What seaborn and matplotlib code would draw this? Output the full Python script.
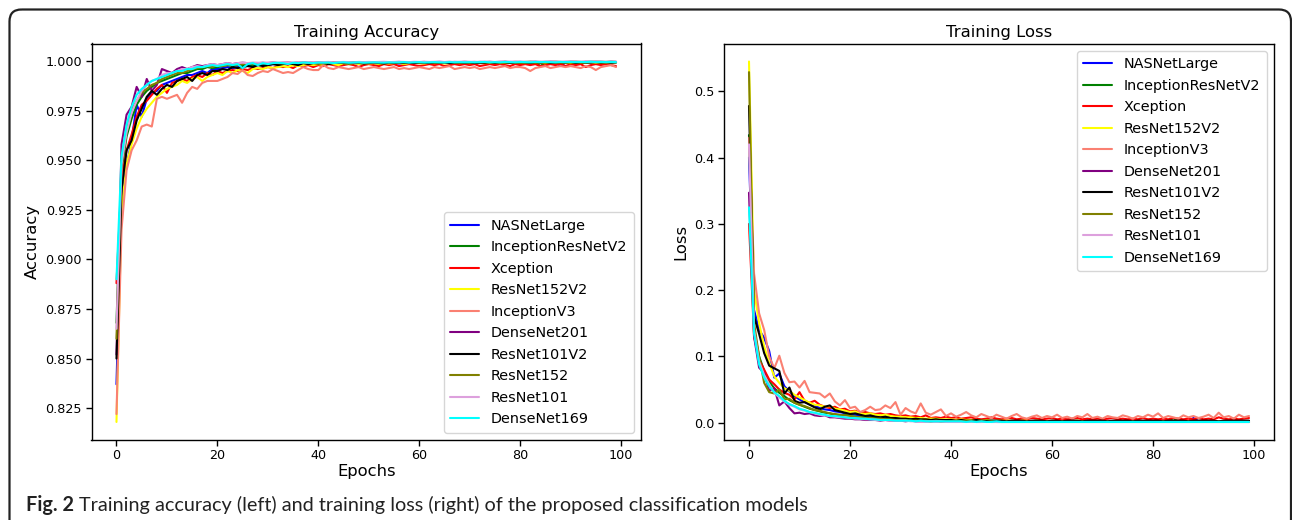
import numpy as np
import matplotlib
matplotlib.use("Agg")
import matplotlib.pyplot as plt
from matplotlib import font_manager
from matplotlib.patches import FancyBboxPatch
import seaborn as sns

# ---------------- data ----------------
models = ["NASNetLarge", "InceptionResNetV2", "Xception", "ResNet152V2", "InceptionV3",
          "DenseNet201", "ResNet101V2", "ResNet152", "ResNet101", "DenseNet169"]
colors = ["blue", "green", "red", "yellow", "salmon",
          "purple", "black", "olive", "plum", "cyan"]
epochs = list(range(100))
x_ticks = [0, 20, 40, 60, 80, 100]

acc_nasnet = [
    0.837, 0.930, 0.947, 0.960, 0.978, 0.972, 0.981, 0.984, 0.985, 0.988,
    0.989, 0.990, 0.991, 0.992, 0.993, 0.993, 0.994, 0.995, 0.994, 0.996,
    0.996, 0.9965, 0.997, 0.9965, 0.997, 0.9975, 0.998, 0.9975, 0.998, 0.9985,
    0.998, 0.9985, 0.9985, 0.999, 0.9985, 0.999, 0.9985, 0.999, 0.999, 0.9985,
    0.999, 0.9985, 0.999, 0.9992, 0.9985, 0.999, 0.9992, 0.999, 0.9985, 0.999,
    0.9992, 0.999, 0.9985, 0.999, 0.9992, 0.999, 0.9988, 0.999, 0.9993, 0.999,
    0.9992, 0.999, 0.9993, 0.9985, 0.999, 0.9993, 0.999, 0.9992, 0.9988, 0.999,
    0.9993, 0.999, 0.9992, 0.9993, 0.999, 0.9992, 0.9993, 0.999, 0.9993, 0.9992,
    0.9993, 0.999, 0.9993, 0.9992, 0.9993, 0.999, 0.9992, 0.9993, 0.9975, 0.9993,
    0.9993, 0.999, 0.9993, 0.9994, 0.9992, 0.9993, 0.9994, 0.9993, 0.9992, 0.9993]
acc_incresv2 = [
    0.868, 0.945, 0.962, 0.971, 0.978, 0.982, 0.985, 0.987, 0.989, 0.990,
    0.991, 0.992, 0.993, 0.994, 0.994, 0.995, 0.996, 0.996, 0.997, 0.9965,
    0.997, 0.9975, 0.998, 0.9975, 0.998, 0.998, 0.9985, 0.998, 0.9985, 0.999,
    0.9985, 0.999, 0.9985, 0.999, 0.999, 0.9988, 0.999, 0.9992, 0.999, 0.9988,
    0.999, 0.9992, 0.999, 0.9993, 0.999, 0.9992, 0.9988, 0.9993, 0.999, 0.9992,
    0.9993, 0.999, 0.9992, 0.9993, 0.999, 0.9993, 0.9992, 0.999, 0.9993, 0.9992,
    0.999, 0.9993, 0.9992, 0.9993, 0.999, 0.9992, 0.9993, 0.9993, 0.999, 0.9992,
    0.9993, 0.9992, 0.999, 0.9993, 0.9993, 0.9992, 0.999, 0.9993, 0.9992, 0.9993,
    0.9993, 0.9992, 0.999, 0.9993, 0.9975, 0.9992, 0.9993, 0.9993, 0.9992, 0.9993,
    0.9992, 0.9993, 0.999, 0.9993, 0.9994, 0.9992, 0.9993, 0.9994, 0.9993, 0.9994]
acc_xception = [
    0.888, 0.940, 0.955, 0.963, 0.972, 0.978, 0.980, 0.983, 0.986, 0.988,
    0.984, 0.989, 0.990, 0.991, 0.990, 0.992, 0.993, 0.992, 0.994, 0.993,
    0.995, 0.994, 0.995, 0.9955, 0.995, 0.996, 0.9955, 0.9965, 0.996, 0.9965,
    0.997, 0.9965, 0.9975, 0.997, 0.9975, 0.9965, 0.998, 0.9975, 0.998, 0.997,
    0.998, 0.9975, 0.9985, 0.998, 0.9975, 0.998, 0.9985, 0.998, 0.997, 0.998,
    0.9985, 0.998, 0.9975, 0.9985, 0.998, 0.9985, 0.9975, 0.998, 0.9985, 0.998,
    0.9975, 0.998, 0.9985, 0.998, 0.9985, 0.9975, 0.998, 0.9985, 0.998, 0.9985,
    0.998, 0.9985, 0.9975, 0.998, 0.9985, 0.998, 0.9985, 0.998, 0.9975, 0.9985,
    0.998, 0.9985, 0.998, 0.9985, 0.9975, 0.998, 0.9985, 0.998, 0.9985, 0.9975,
    0.9985, 0.998, 0.9985, 0.997, 0.998, 0.9985, 0.998, 0.9985, 0.998, 0.9975]
acc_resnet152v2 = [
    0.818, 0.925, 0.948, 0.958, 0.966, 0.972, 0.976, 0.979, 0.982, 0.984,
    0.986, 0.987, 0.988, 0.990, 0.989, 0.991, 0.992, 0.990, 0.992, 0.993,
    0.994, 0.993, 0.995, 0.994, 0.9955, 0.995, 0.994, 0.996, 0.9965, 0.996,
    0.997, 0.9965, 0.997, 0.9975, 0.997, 0.998, 0.9975, 0.998, 0.9985, 0.998,
    0.9985, 0.998, 0.999, 0.9985, 0.998, 0.999, 0.9985, 0.999, 0.9985, 0.999,
    0.9988, 0.999, 0.9985, 0.999, 0.9988, 0.999, 0.9992, 0.9985, 0.999, 0.9992,
    0.999, 0.9988, 0.9992, 0.999, 0.9992, 0.9988, 0.999, 0.9992, 0.999, 0.9992,
    0.999, 0.9992, 0.9993, 0.999, 0.9992, 0.9993, 0.999, 0.9992, 0.9993, 0.9992,
    0.9993, 0.999, 0.9992, 0.9993, 0.9992, 0.999, 0.9993, 0.9992, 0.9993, 0.9992,
    0.999, 0.9993, 0.9992, 0.9993, 0.9994, 0.9992, 0.9993, 0.9992, 0.9994, 0.9993]
acc_inceptionv3 = [
    0.822, 0.915, 0.945, 0.955, 0.960, 0.967, 0.968, 0.967, 0.981, 0.982,
    0.981, 0.982, 0.983, 0.979, 0.984, 0.987, 0.986, 0.989, 0.990, 0.990,
    0.990, 0.991, 0.992, 0.994, 0.9935, 0.9955, 0.993, 0.9925, 0.994, 0.995,
    0.9945, 0.996, 0.995, 0.994, 0.9945, 0.994, 0.9955, 0.997, 0.996, 0.9955,
    0.9955, 0.998, 0.9965, 0.996, 0.997, 0.9965, 0.996, 0.9965, 0.997, 0.996,
    0.9965, 0.997, 0.9965, 0.996, 0.9965, 0.997, 0.996, 0.9965, 0.996, 0.9965,
    0.997, 0.9965, 0.996, 0.997, 0.9965, 0.997, 0.9975, 0.996, 0.9965, 0.997,
    0.9965, 0.997, 0.996, 0.9965, 0.997, 0.9965, 0.997, 0.9975, 0.9965, 0.997,
    0.997, 0.9965, 0.995, 0.9965, 0.997, 0.9975, 0.9965, 0.997, 0.9975, 0.997,
    0.9975, 0.997, 0.9965, 0.9975, 0.997, 0.9955, 0.997, 0.9975, 0.998, 0.997]
acc_densenet201 = [
    0.852, 0.958, 0.973, 0.977, 0.987, 0.982, 0.991, 0.985, 0.988, 0.996,
    0.995, 0.994, 0.996, 0.997, 0.996, 0.997, 0.998, 0.9975, 0.998, 0.9985,
    0.998, 0.9985, 0.999, 0.9985, 0.999, 0.9992, 0.999, 0.9985, 0.999, 0.9992,
    0.999, 0.9993, 0.999, 0.9992, 0.9993, 0.999, 0.9993, 0.9994, 0.9992, 0.9993,
    0.9994, 0.9993, 0.9995, 0.9993, 0.9994, 0.9995, 0.9993, 0.9994, 0.9995, 0.9994,
    0.9995, 0.9994, 0.9993, 0.9995, 0.9994, 0.9995, 0.9996, 0.9994, 0.9995, 0.9994,
    0.9995, 0.9996, 0.9994, 0.9995, 0.9996, 0.9995, 0.9994, 0.9996, 0.9995, 0.9996,
    0.9995, 0.9996, 0.9994, 0.9995, 0.9996, 0.9995, 0.9996, 0.9997, 0.9995, 0.9996,
    0.9996, 0.9995, 0.9996, 0.9997, 0.9995, 0.9996, 0.9997, 0.9996, 0.9995, 0.9996,
    0.9997, 0.9996, 0.9995, 0.9997, 0.9996, 0.9997, 0.9996, 0.9995, 0.9997, 0.9996]
acc_resnet101v2 = [
    0.850, 0.935, 0.955, 0.960, 0.970, 0.976, 0.982, 0.985, 0.983, 0.986,
    0.988, 0.987, 0.990, 0.991, 0.992, 0.990, 0.993, 0.994, 0.993, 0.995,
    0.995, 0.996, 0.9955, 0.997, 0.9965, 0.997, 0.9975, 0.997, 0.998, 0.9975,
    0.998, 0.9985, 0.998, 0.9985, 0.999, 0.9985, 0.998, 0.999, 0.9985, 0.999,
    0.9988, 0.999, 0.9985, 0.999, 0.9992, 0.999, 0.9988, 0.999, 0.9992, 0.9988,
    0.999, 0.9992, 0.999, 0.9988, 0.9992, 0.999, 0.9993, 0.999, 0.9992, 0.999,
    0.9993, 0.9992, 0.999, 0.9993, 0.9992, 0.9993, 0.999, 0.9992, 0.9993, 0.9992,
    0.9993, 0.999, 0.9993, 0.9992, 0.9994, 0.9992, 0.9993, 0.9994, 0.9992, 0.9993,
    0.9994, 0.9993, 0.9992, 0.9994, 0.9993, 0.9994, 0.9992, 0.9993, 0.9994, 0.9993,
    0.9994, 0.9992, 0.9994, 0.9993, 0.9994, 0.9995, 0.9993, 0.9994, 0.9993, 0.9994]
acc_resnet152 = [
    0.860, 0.950, 0.965, 0.975, 0.980, 0.984, 0.986, 0.988, 0.989, 0.991,
    0.992, 0.993, 0.994, 0.994, 0.995, 0.996, 0.9965, 0.997, 0.9975, 0.997,
    0.998, 0.9975, 0.998, 0.9985, 0.998, 0.9985, 0.999, 0.9985, 0.999, 0.9988,
    0.999, 0.9992, 0.999, 0.9988, 0.9992, 0.999, 0.9993, 0.9992, 0.999, 0.9993,
    0.9992, 0.9993, 0.999, 0.9993, 0.9994, 0.9992, 0.9993, 0.9994, 0.9993, 0.9992,
    0.9994, 0.9993, 0.9994, 0.9995, 0.9993, 0.9994, 0.9995, 0.9993, 0.9994, 0.9995,
    0.9994, 0.9995, 0.9993, 0.9995, 0.9994, 0.9995, 0.9996, 0.9994, 0.9995, 0.9996,
    0.9995, 0.9994, 0.9996, 0.9995, 0.9996, 0.9995, 0.9994, 0.9996, 0.9995, 0.9996,
    0.9995, 0.9996, 0.9997, 0.9995, 0.9996, 0.9995, 0.9996, 0.9997, 0.9996, 0.9995,
    0.9996, 0.9997, 0.9996, 0.9995, 0.9997, 0.9996, 0.9997, 0.9996, 0.9997, 0.9996]
acc_resnet101 = [
    0.865, 0.948, 0.964, 0.974, 0.980, 0.985, 0.988, 0.990, 0.991, 0.993,
    0.994, 0.994, 0.995, 0.996, 0.996, 0.997, 0.9975, 0.997, 0.998, 0.9985,
    0.998, 0.9985, 0.999, 0.9985, 0.999, 0.9992, 0.999, 0.9993, 0.9992, 0.999,
    0.9993, 0.9994, 0.9992, 0.9993, 0.9994, 0.9993, 0.9995, 0.9994, 0.9993, 0.9995,
    0.9994, 0.9995, 0.9996, 0.9994, 0.9995, 0.9996, 0.9995, 0.9994, 0.9996, 0.9995,
    0.9996, 0.9995, 0.9996, 0.9997, 0.9995, 0.9996, 0.9997, 0.9996, 0.9995, 0.9997,
    0.9996, 0.9997, 0.9996, 0.9997, 0.9998, 0.9996, 0.9997, 0.9996, 0.9997, 0.9998,
    0.9997, 0.9996, 0.9997, 0.9998, 0.9997, 0.9996, 0.9998, 0.9997, 0.9998, 0.9997,
    0.9998, 0.9997, 0.9996, 0.9998, 0.9997, 0.9998, 0.9997, 0.9998, 0.9997, 0.9998,
    0.9997, 0.9998, 0.9997, 0.9998, 0.9998, 0.9997, 0.9998, 0.9997, 0.9998, 0.9998]
acc_densenet169 = [
    0.890, 0.952, 0.968, 0.977, 0.983, 0.986, 0.988, 0.990, 0.991, 0.992,
    0.993, 0.994, 0.995, 0.995, 0.996, 0.996, 0.997, 0.997, 0.9975, 0.998,
    0.9975, 0.998, 0.9985, 0.998, 0.9985, 0.9965, 0.9985, 0.999, 0.998, 0.999,
    0.9985, 0.999, 0.9992, 0.999, 0.9985, 0.9992, 0.999, 0.9993, 0.9992, 0.999,
    0.9993, 0.9992, 0.9993, 0.999, 0.9993, 0.9994, 0.9992, 0.9993, 0.9994, 0.9992,
    0.9993, 0.9994, 0.9993, 0.9992, 0.9994, 0.9993, 0.9994, 0.9995, 0.9993, 0.9994,
    0.9995, 0.9993, 0.9994, 0.9995, 0.9994, 0.9993, 0.9995, 0.9994, 0.9995, 0.9994,
    0.9995, 0.9994, 0.9995, 0.9996, 0.9994, 0.9995, 0.9994, 0.9996, 0.9995, 0.9994,
    0.9996, 0.9995, 0.9994, 0.9996, 0.9995, 0.9996, 0.9995, 0.9994, 0.9996, 0.9995,
    0.9996, 0.9995, 0.9996, 0.9995, 0.9997, 0.9995, 0.9996, 0.9995, 0.9996, 0.9995]

loss_nasnet = [
    0.400, 0.170, 0.140, 0.128, 0.108, 0.068, 0.074, 0.055, 0.047, 0.040,
    0.035, 0.031, 0.028, 0.026, 0.022, 0.020, 0.019, 0.017, 0.016, 0.014,
    0.013, 0.012, 0.011, 0.010, 0.010, 0.009, 0.008, 0.008, 0.007, 0.007,
    0.006, 0.006, 0.006, 0.005, 0.005, 0.005, 0.004, 0.005, 0.004, 0.004,
    0.004, 0.004, 0.003, 0.004, 0.003, 0.003, 0.004, 0.003, 0.003, 0.003,
    0.003, 0.002, 0.003, 0.003, 0.002, 0.003, 0.002, 0.003, 0.002, 0.002,
    0.003, 0.002, 0.002, 0.003, 0.002, 0.002, 0.002, 0.003, 0.002, 0.002,
    0.002, 0.003, 0.002, 0.002, 0.002, 0.002, 0.003, 0.002, 0.002, 0.002,
    0.002, 0.002, 0.003, 0.002, 0.002, 0.002, 0.002, 0.002, 0.007, 0.002,
    0.002, 0.002, 0.002, 0.002, 0.002, 0.002, 0.002, 0.002, 0.002, 0.002]
loss_incresv2 = [
    0.434, 0.140, 0.100, 0.078, 0.062, 0.052, 0.045, 0.040, 0.034, 0.030,
    0.027, 0.024, 0.021, 0.019, 0.017, 0.015, 0.014, 0.012, 0.011, 0.012,
    0.010, 0.009, 0.008, 0.009, 0.007, 0.007, 0.006, 0.006, 0.009, 0.006,
    0.005, 0.005, 0.004, 0.005, 0.004, 0.004, 0.004, 0.003, 0.004, 0.003,
    0.003, 0.003, 0.003, 0.002, 0.003, 0.003, 0.002, 0.003, 0.002, 0.002,
    0.002, 0.003, 0.002, 0.002, 0.002, 0.002, 0.002, 0.003, 0.002, 0.002,
    0.002, 0.002, 0.002, 0.002, 0.003, 0.002, 0.002, 0.002, 0.002, 0.002,
    0.002, 0.002, 0.002, 0.002, 0.002, 0.002, 0.002, 0.002, 0.002, 0.002,
    0.002, 0.002, 0.002, 0.002, 0.007, 0.002, 0.002, 0.002, 0.002, 0.002,
    0.002, 0.002, 0.002, 0.002, 0.001, 0.002, 0.002, 0.001, 0.002, 0.001]
loss_xception = [
    0.300, 0.130, 0.095, 0.080, 0.065, 0.058, 0.050, 0.045, 0.042, 0.035,
    0.046, 0.033, 0.030, 0.033, 0.027, 0.024, 0.022, 0.024, 0.020, 0.021,
    0.017, 0.018, 0.015, 0.016, 0.014, 0.013, 0.014, 0.012, 0.013, 0.011,
    0.010, 0.011, 0.009, 0.010, 0.008, 0.011, 0.007, 0.008, 0.007, 0.009,
    0.007, 0.008, 0.006, 0.007, 0.008, 0.006, 0.005, 0.006, 0.008, 0.006,
    0.005, 0.006, 0.007, 0.005, 0.006, 0.005, 0.007, 0.006, 0.005, 0.006,
    0.007, 0.005, 0.006, 0.005, 0.006, 0.007, 0.005, 0.006, 0.005, 0.006,
    0.005, 0.006, 0.007, 0.005, 0.006, 0.005, 0.006, 0.005, 0.007, 0.005,
    0.006, 0.005, 0.006, 0.005, 0.007, 0.006, 0.005, 0.006, 0.005, 0.007,
    0.005, 0.006, 0.005, 0.008, 0.006, 0.005, 0.006, 0.005, 0.006, 0.007]
loss_resnet152v2 = [
    0.545, 0.200, 0.150, 0.115, 0.090, 0.070, 0.060, 0.052, 0.048, 0.042,
    0.038, 0.034, 0.030, 0.027, 0.026, 0.024, 0.025, 0.021, 0.020, 0.018,
    0.016, 0.017, 0.014, 0.013, 0.014, 0.012, 0.011, 0.012, 0.010, 0.009,
    0.009, 0.008, 0.008, 0.007, 0.007, 0.006, 0.006, 0.006, 0.005, 0.005,
    0.005, 0.004, 0.005, 0.004, 0.004, 0.004, 0.003, 0.004, 0.003, 0.003,
    0.003, 0.003, 0.003, 0.002, 0.003, 0.003, 0.002, 0.003, 0.002, 0.002,
    0.003, 0.002, 0.002, 0.002, 0.002, 0.003, 0.002, 0.002, 0.002, 0.002,
    0.002, 0.002, 0.002, 0.002, 0.002, 0.002, 0.002, 0.002, 0.002, 0.002,
    0.002, 0.002, 0.002, 0.002, 0.002, 0.002, 0.002, 0.002, 0.002, 0.002,
    0.002, 0.002, 0.002, 0.002, 0.002, 0.002, 0.002, 0.002, 0.002, 0.002]
loss_inceptionv3 = [
    0.430, 0.225, 0.165, 0.140, 0.100, 0.082, 0.101, 0.075, 0.061, 0.062,
    0.053, 0.063, 0.046, 0.045, 0.044, 0.038, 0.044, 0.032, 0.026, 0.034,
    0.022, 0.024, 0.016, 0.019, 0.024, 0.019, 0.020, 0.026, 0.022, 0.031,
    0.012, 0.022, 0.017, 0.014, 0.029, 0.015, 0.012, 0.016, 0.020, 0.010,
    0.014, 0.009, 0.012, 0.016, 0.011, 0.008, 0.013, 0.010, 0.007, 0.012,
    0.009, 0.006, 0.010, 0.013, 0.008, 0.006, 0.009, 0.011, 0.007, 0.010,
    0.008, 0.012, 0.007, 0.009, 0.006, 0.010, 0.008, 0.013, 0.007, 0.009,
    0.006, 0.010, 0.008, 0.007, 0.011, 0.009, 0.006, 0.010, 0.008, 0.012,
    0.009, 0.014, 0.007, 0.010, 0.008, 0.006, 0.011, 0.008, 0.010, 0.007,
    0.009, 0.012, 0.007, 0.015, 0.008, 0.010, 0.006, 0.012, 0.008, 0.010]
loss_densenet201 = [
    0.347, 0.130, 0.083, 0.075, 0.048, 0.052, 0.026, 0.032, 0.022, 0.014,
    0.015, 0.013, 0.014, 0.011, 0.010, 0.011, 0.008, 0.008, 0.007, 0.006,
    0.006, 0.005, 0.005, 0.004, 0.004, 0.004, 0.003, 0.004, 0.003, 0.003,
    0.003, 0.002, 0.003, 0.002, 0.002, 0.002, 0.002, 0.002, 0.002, 0.002,
    0.002, 0.001, 0.002, 0.001, 0.002, 0.001, 0.001, 0.002, 0.001, 0.001,
    0.001, 0.001, 0.001, 0.001, 0.001, 0.001, 0.001, 0.001, 0.001, 0.001,
    0.001, 0.001, 0.001, 0.001, 0.001, 0.001, 0.001, 0.001, 0.001, 0.001,
    0.001, 0.001, 0.001, 0.001, 0.001, 0.001, 0.001, 0.001, 0.001, 0.001,
    0.001, 0.001, 0.001, 0.001, 0.001, 0.001, 0.001, 0.001, 0.001, 0.001,
    0.001, 0.001, 0.001, 0.001, 0.001, 0.001, 0.001, 0.001, 0.001, 0.001]
loss_resnet101v2 = [
    0.478, 0.160, 0.134, 0.105, 0.086, 0.082, 0.078, 0.044, 0.053, 0.033,
    0.030, 0.031, 0.027, 0.023, 0.020, 0.024, 0.026, 0.019, 0.017, 0.015,
    0.013, 0.014, 0.012, 0.010, 0.011, 0.009, 0.008, 0.009, 0.007, 0.007,
    0.006, 0.006, 0.005, 0.006, 0.005, 0.005, 0.004, 0.005, 0.004, 0.004,
    0.004, 0.003, 0.004, 0.003, 0.003, 0.004, 0.003, 0.003, 0.003, 0.003,
    0.003, 0.002, 0.003, 0.003, 0.003, 0.002, 0.003, 0.003, 0.003, 0.002,
    0.003, 0.003, 0.002, 0.003, 0.003, 0.003, 0.002, 0.003, 0.003, 0.003,
    0.003, 0.002, 0.003, 0.003, 0.003, 0.003, 0.002, 0.003, 0.003, 0.003,
    0.003, 0.003, 0.002, 0.003, 0.003, 0.003, 0.003, 0.002, 0.003, 0.003,
    0.003, 0.003, 0.003, 0.002, 0.003, 0.003, 0.003, 0.003, 0.003, 0.003]
loss_resnet152 = [
    0.529, 0.150, 0.100, 0.060, 0.046, 0.044, 0.050, 0.035, 0.036, 0.030,
    0.027, 0.025, 0.022, 0.019, 0.018, 0.016, 0.014, 0.013, 0.012, 0.011,
    0.010, 0.009, 0.008, 0.007, 0.007, 0.006, 0.006, 0.005, 0.005, 0.004,
    0.004, 0.004, 0.003, 0.003, 0.003, 0.003, 0.002, 0.003, 0.002, 0.002,
    0.002, 0.002, 0.002, 0.002, 0.002, 0.001, 0.002, 0.001, 0.002, 0.001,
    0.001, 0.001, 0.001, 0.001, 0.001, 0.001, 0.001, 0.001, 0.001, 0.001,
    0.001, 0.001, 0.001, 0.001, 0.001, 0.001, 0.001, 0.001, 0.001, 0.001,
    0.001, 0.001, 0.001, 0.001, 0.001, 0.001, 0.001, 0.001, 0.001, 0.001,
    0.001, 0.001, 0.001, 0.001, 0.001, 0.001, 0.001, 0.001, 0.001, 0.001,
    0.001, 0.001, 0.001, 0.001, 0.001, 0.001, 0.001, 0.001, 0.001, 0.001]
loss_resnet101 = [
    0.420, 0.140, 0.092, 0.072, 0.058, 0.045, 0.038, 0.032, 0.027, 0.024,
    0.020, 0.018, 0.016, 0.014, 0.012, 0.011, 0.010, 0.009, 0.008, 0.008,
    0.007, 0.006, 0.006, 0.005, 0.005, 0.004, 0.004, 0.004, 0.003, 0.003,
    0.003, 0.003, 0.002, 0.002, 0.002, 0.002, 0.002, 0.002, 0.002, 0.001,
    0.001, 0.001, 0.001, 0.001, 0.001, 0.001, 0.001, 0.001, 0.001, 0.001,
    0.001, 0.001, 0.001, 0.001, 0.001, 0.001, 0.001, 0.001, 0.001, 0.001,
    0.001, 0.001, 0.001, 0.001, 0.001, 0.001, 0.001, 0.001, 0.001, 0.001,
    0.001, 0.001, 0.001, 0.001, 0.001, 0.001, 0.001, 0.001, 0.001, 0.001,
    0.001, 0.001, 0.001, 0.001, 0.001, 0.001, 0.001, 0.001, 0.001, 0.001,
    0.001, 0.001, 0.001, 0.001, 0.001, 0.001, 0.001, 0.001, 0.001, 0.001]
loss_densenet169 = [
    0.325, 0.135, 0.088, 0.068, 0.055, 0.046, 0.040, 0.033, 0.028, 0.025,
    0.021, 0.019, 0.016, 0.015, 0.013, 0.012, 0.010, 0.010, 0.009, 0.008,
    0.007, 0.007, 0.006, 0.006, 0.005, 0.005, 0.004, 0.004, 0.004, 0.003,
    0.003, 0.003, 0.003, 0.002, 0.003, 0.002, 0.002, 0.002, 0.002, 0.002,
    0.002, 0.002, 0.002, 0.001, 0.002, 0.001, 0.002, 0.001, 0.001, 0.002,
    0.001, 0.001, 0.001, 0.001, 0.001, 0.001, 0.001, 0.001, 0.001, 0.001,
    0.001, 0.001, 0.001, 0.001, 0.001, 0.001, 0.001, 0.001, 0.001, 0.001,
    0.001, 0.001, 0.001, 0.001, 0.001, 0.001, 0.001, 0.001, 0.001, 0.001,
    0.001, 0.001, 0.001, 0.001, 0.001, 0.001, 0.001, 0.001, 0.001, 0.001,
    0.001, 0.001, 0.001, 0.001, 0.001, 0.001, 0.001, 0.001, 0.001, 0.001]

acc_series = [acc_nasnet, acc_incresv2, acc_xception, acc_resnet152v2, acc_inceptionv3,
              acc_densenet201, acc_resnet101v2, acc_resnet152, acc_resnet101, acc_densenet169]
loss_series = [loss_nasnet, loss_incresv2, loss_xception, loss_resnet152v2, loss_inceptionv3,
               loss_densenet201, loss_resnet101v2, loss_resnet152, loss_resnet101, loss_densenet169]

caption_bold = "Fig. 2"
caption_rest = "Training accuracy (left) and training loss (right) of the proposed classification models"

# ---------------- style ----------------
sns.set_style("ticks")
plt.rcParams["font.family"] = ["DejaVu Sans"]
plt.rcParams["axes.edgecolor"] = "black"
plt.rcParams["axes.linewidth"] = 1.0
plt.rcParams["xtick.color"] = "black"
plt.rcParams["ytick.color"] = "black"
plt.rcParams["text.color"] = "black"
plt.rcParams["axes.labelcolor"] = "black"

W, H = 1292, 520
fig = plt.figure(figsize=(W / 100, H / 100), dpi=100)
fig.patch.set_facecolor("white")

def px_rect(x0, y0, x1, y1):
    return [x0 / W, 1 - y1 / H, (x1 - x0) / W, (y1 - y0) / H]

ax1 = fig.add_axes(px_rect(91.5, 43.5, 641, 440))
ax2 = fig.add_axes(px_rect(724, 43.5, 1274, 440))

for ax, series, title, ylabel, loc in [
    (ax1, acc_series, "Training Accuracy", "Accuracy", "lower right"),
    (ax2, loss_series, "Training Loss", "Loss", "upper right"),
]:
    for name, col, vals in zip(models, colors, series):
        sns.lineplot(x=epochs, y=vals, ax=ax, color=col, label=name, linewidth=1.5)
    ax.set_title(title, fontsize=11.8, pad=5)
    ax.set_xlabel("Epochs", fontsize=11.8, labelpad=1)
    ax.set_ylabel(ylabel, fontsize=11.8, labelpad=4)
    ax.set_xticks(x_ticks)
    ax.tick_params(axis="both", labelsize=9.2, length=4, width=1, direction="out", pad=2.8)
    for s in ax.spines.values():
        s.set_visible(True)
        s.set_color("black")
    ax.legend(loc=loc, fontsize=10.4, labelspacing=0.52, handlelength=2.0,
              frameon=True, fancybox=True, framealpha=0.8, edgecolor="#cccccc",
              borderpad=0.45, borderaxespad=0.5)

ax1.set_yticks([0.825, 0.850, 0.875, 0.900, 0.925, 0.950, 0.975, 1.000])
ax1.set_yticklabels(["0.825", "0.850", "0.875", "0.900", "0.925", "0.950", "0.975", "1.000"])
ax2.set_yticks([0.0, 0.1, 0.2, 0.3, 0.4, 0.5])
ax2.set_yticklabels(["0.0", "0.1", "0.2", "0.3", "0.4", "0.5"])

# ---------------- frame and caption ----------------
ov = fig.add_axes([0, 0, 1, 1], zorder=-5)
ov.set_xlim(0, W)
ov.set_ylim(H, 0)
ov.axis("off")
ov.add_patch(FancyBboxPatch((9.5, 9.5), 1281.5, 600, boxstyle="round,pad=0,rounding_size=12",
                            fill=False, lw=1.6, ec="#222222"))

avail = {f.name for f in font_manager.fontManager.ttflist}
cap_fam = "Liberation Sans Narrow" if "Liberation Sans Narrow" in avail else (
    "Lato" if "Lato" in avail else "Open Sans")

renderer = fig.canvas.get_renderer()
fs = 13.5
t1 = fig.text(25.5 / W, 1 - 511 / H, caption_bold, fontsize=fs, fontweight="bold",
              family=cap_fam, va="baseline", ha="left", color="#222222")
b1 = t1.get_window_extent(renderer)
t2 = fig.text((b1.x1 + 5) / W, 1 - 511 / H, caption_rest, fontsize=fs,
              family=cap_fam, va="baseline", ha="left", color="#222222")
b2 = t2.get_window_extent(renderer)
total = b2.x1 - b1.x0
scale = (808 - 25.5) / total
fs2 = fs * scale
t1.set_fontsize(fs2)
b1 = t1.get_window_extent(renderer)
t2.set_fontsize(fs2)
t2.set_x((b1.x1 + 5 * scale) / W)

fig.savefig("out.png", dpi=100, facecolor="white")
